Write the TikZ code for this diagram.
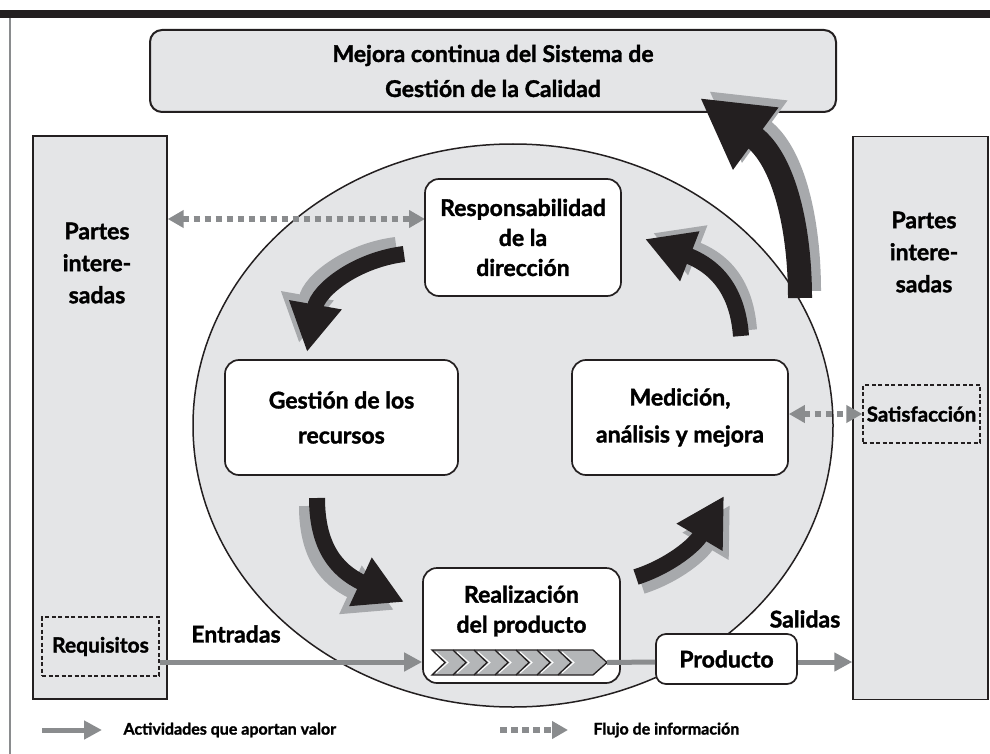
\documentclass[tikz,border=0pt]{standalone}
\usepackage{fontspec}
\setmainfont{Lato}[BoldFeatures={FakeBold=1.5}]
\usetikzlibrary{arrows.meta}

\definecolor{inkblack}{HTML}{231F20}
\definecolor{panelgray}{HTML}{E4E5E7}
\definecolor{flowgray}{HTML}{8A8C8E}
\definecolor{shadegray}{HTML}{A7A9AC}
\definecolor{chevgray}{HTML}{B4B6B8}

\tikzset{
  flowtip/.tip={Triangle[length=18pt,width=18pt]},
  infotip/.tip={Triangle[length=16pt,width=17pt]},
}

\begin{document}
\begin{tikzpicture}[x=1pt,y=-1pt,
    panel/.style={draw=inkblack,line width=1.4pt,fill=panelgray},
    proc/.style={draw=inkblack,line width=1.7pt,fill=white,rounded corners=14pt,
      align=center,font=\bfseries\fontsize{23}{35}\selectfont},
    lbl/.style={align=center,font=\bfseries\fontsize{23}{32}\selectfont},
    legend/.style={font=\bfseries\fontsize{16}{18}\selectfont},
    dashbox/.style={draw=inkblack,dash pattern=on 4pt off 2.5pt,line width=1.4pt,inner sep=0pt,
      font=\bfseries\fontsize{21}{24}\selectfont},
    flow/.style={draw=flowgray,line width=5pt,-flowtip},
    info/.style={draw=flowgray,line width=6pt,dash pattern=on 6.5pt off 4.5pt},
    turn/.style={draw=inkblack,line width=16pt,-{Triangle[length=48pt,width=50pt]}},
    turnbig/.style={draw=inkblack,line width=24pt,-{Triangle[length=69pt,width=72pt]}}]
  \useasboundingbox (0,0) rectangle (990,754);

  % marco
  \fill[inkblack] (0,10) rectangle (990,18);
  \draw[flowgray,line width=1.5pt] (10,18) -- (10,754);

  % partes interesadas
  \node[panel,minimum width=134,minimum height=563] (partesL) at (100,417.5) {};
  \node[panel,minimum width=135,minimum height=563] (partesR) at (920.5,418) {};
  \node[lbl] (partesLtxt) at (97,263) {Partes\\intere-\\sadas};
  \node[lbl] (partesRtxt) at (924,252) {Partes\\intere-\\sadas};
  \node[dashbox,minimum width=117,minimum height=59] (req) at (100.5,646.5) {Requisitos};
  \node[dashbox,minimum width=117,minimum height=58,font=\bfseries\fontsize{20.5}{24}\selectfont]
    (satisf) at (921.5,414) {Satisfacción};

  % sistema
  \draw[inkblack,line width=1.5pt,fill=panelgray] (513,425.5) ellipse [x radius=320pt,y radius=281.5pt];
  \node[proc,fill=panelgray,minimum width=686,minimum height=82,rounded corners=12pt,
    line width=2pt] (mejora) at (493,71) {Mejora continua del Sistema de\\Gestión de la Calidad};

  % flujo de informacion
  \coordinate (infoY) at (0,219);
  \draw[info,infotip-infotip] (partesL.east |- infoY) -- (425,219);

  \node[proc,minimum width=196,minimum height=117,font=\bfseries\fontsize{23}{30}\selectfont]
    (resp) at (523,237.5) {Responsabilidad\\de la\\dirección};
  \node[proc,minimum width=233,minimum height=115] (gest) at (341.5,417.5) {Gestión de los\\recursos};
  \node[proc,minimum width=216,minimum height=115,font=\bfseries\fontsize{23}{37}\selectfont]
    (medic) at (680,417.5) {Medición,\\análisis y mejora};
  \node[proc,minimum width=197,minimum height=115] (realiz) at (521.5,625.5) {};
  \node[lbl,font=\bfseries\fontsize{23}{30}\selectfont] (realiztxt) at (521.5,611) {Realización\\del producto};
  \node[proc,minimum width=141,minimum height=50,rounded corners=10pt] (producto) at (726.5,659) {Producto};

  \draw[info,infotip-infotip] (medic.east |- satisf.west) -- (satisf.west);

  % barra de proceso
  \coordinate (barTip) at (607,662.5);
  \filldraw[fill=chevgray,draw=inkblack,line width=1.3pt]
    (432,650) -- (593,650) -- (barTip) -- (593,675) -- (432,675) -- (445,662.5) -- cycle;
  \foreach \cx in {453,474,495,516,537,558} {
    \draw[inkblack,line width=1.3pt] (\cx,650) -- (\cx+13,662.5) -- (\cx,675);
  }
  \foreach \cx in {436,457,478,499,520,541,562} {
    \draw[white,line width=1pt] (\cx,652) -- (\cx+12,662.5) -- (\cx,673);
  }

  % entradas y salidas
  \coordinate (flowY) at (0,662);
  \draw[flow] (req.east |- flowY) -- (realiz.west |- flowY);
  \draw[flowgray,line width=5pt] (barTip) -- (producto.west |- flowY);
  \draw[flow] (producto.east |- flowY) -- (partesR.west |- flowY);
  \node[lbl] (entradas) at (236,634) {Entradas};
  \node[lbl] (salidas) at (805,619) {Salidas};

  % ciclo
  \coordinate (tA) at (404,254); \coordinate (hA) at (307,352);
  \coordinate (tB) at (317,498); \coordinate (hB) at (404,602);
  \coordinate (tC) at (636,577); \coordinate (hC) at (724,496);
  \coordinate (tD) at (741,336); \coordinate (hD) at (645,239);
  \coordinate (tE) at (800,298); \coordinate (hE) at (700,98);

  \draw[turn,draw=shadegray] ([shift={(-8,-9)}]tA) .. controls +(-48,6) and +(11,-62) .. ([shift={(-8,-9)}]hA);
  \draw[turn] (tA) .. controls +(-48,6) and +(11,-62) .. (hA);

  \draw[turn,draw=shadegray] ([shift={(-10,8)}]tB) .. controls +(0,47) and +(-69,-32) .. ([shift={(-10,8)}]hB);
  \draw[turn] (tB) .. controls +(0,47) and +(-69,-32) .. (hB);

  \draw[turn,draw=shadegray] ([shift={(6,9)}]tC) .. controls +(34,-11) and +(-29,49) .. ([shift={(6,9)}]hC);
  \draw[turn] (tC) .. controls +(34,-11) and +(-29,49) .. (hC);

  \draw[turn,draw=shadegray] ([shift={(8,-6)}]tD) .. controls +(-3,-41) and +(75,29) .. ([shift={(8,-6)}]hD);
  \draw[turn] (tD) .. controls +(-3,-41) and +(75,29) .. (hD);

  \draw[turnbig,draw=shadegray] ([shift={(9,-7)}]tE) .. controls +(0,-68) and +(85,62) .. ([shift={(9,-7)}]hE);
  \draw[turnbig] (tE) .. controls +(0,-68) and +(85,62) .. (hE);

  % leyenda
  \coordinate (legA) at (42,730); \coordinate (legB) at (102,730);
  \draw[flow] (legA) -- (legB);
  \node[legend,anchor=west] (legValor) at (120,730) {Actividades que aportan valor};
  \coordinate (legC) at (500,730); \coordinate (legD) at (568,730);
  \draw[info,-infotip] (legC) -- (legD);
  \node[legend,anchor=west] (legFlujo) at (590,730) {Flujo de información};
\end{tikzpicture}
\end{document}
